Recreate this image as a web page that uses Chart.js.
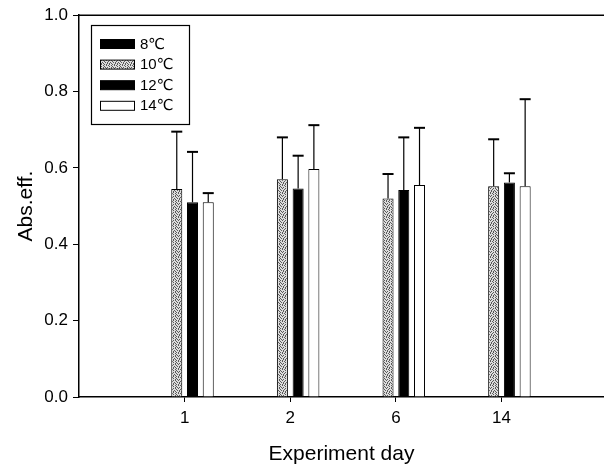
<!DOCTYPE html>
<html>
<head>
<meta charset="utf-8">
<script src="https://cdn.jsdelivr.net/npm/chart.js@4/dist/chart.umd.min.js"></script>
<style>
  html, body { margin: 0; padding: 0; background: #fff; }
</style>
</head>
<body>
<canvas id="chart-abs-eff" width="604" height="469"></canvas>
<script>
const DAY_LABELS = ["1", "2", "6", "14"];
const DAY_POS = [1, 2, 3, 4];
const SERIES_NAMES = ["8℃", "10℃", "12℃", "14℃"];

// means
const VALUES_8C = [null, null, null, null];
const VALUES_10C = [0.545, 0.57, 0.52, 0.552];
const VALUES_12C = [0.51, 0.546, 0.542, 0.562];
const VALUES_14C = [0.51, 0.597, 0.555, 0.552];

// upper error (SD)
const ERR_10C = [0.15, 0.11, 0.064, 0.123];
const ERR_12C = [0.132, 0.086, 0.138, 0.024];
const ERR_14C = [0.024, 0.115, 0.15, 0.228];

const Y_TICKS = [0, 0.2, 0.4, 0.6, 0.8, 1.0];

const FONT = "'Liberation Sans', Arial, 'DejaVu Sans', sans-serif";

function makeStipple() {
  const c = document.createElement("canvas");
  c.width = 8;
  c.height = 8;
  const ctx = c.getContext("2d");
  ctx.fillStyle = "#dcdcdc";
  ctx.fillRect(0, 0, 8, 8);
  const rows = [
    "x.x..x..",
    "..x.x..x",
    "x....x..",
    ".x.x...x",
    "..x..x.x",
    "x...x...",
    ".x.x..x.",
    "...x.x.x",
  ];
  ctx.fillStyle = "#5a5a5a";
  rows.forEach((row, y) => {
    [...row].forEach((ch, x) => {
      if (ch === "x") ctx.fillRect(x, y, 1, 1);
    });
  });
  return ctx.createPattern(c, "repeat");
}

function toPoints(values) {
  return DAY_POS.map((x, i) => ({ x: x, y: values[i] }));
}

const errorBarPlugin = {
  id: "errorBars",
  afterDatasetsDraw(chart) {
    const ctx = chart.ctx;
    const yScale = chart.scales.y;
    chart.data.datasets.forEach((ds, i) => {
      if (!ds.errors) return;
      const meta = chart.getDatasetMeta(i);
      meta.data.forEach((bar, j) => {
        const v = ds.data[j].y;
        const e = ds.errors[j];
        if (v == null || e == null) return;
        const yTop = yScale.getPixelForValue(v + e);
        const half = bar.width / 2;
        ctx.save();
        ctx.strokeStyle = "#000";
        ctx.lineWidth = 1.2;
        ctx.beginPath();
        ctx.moveTo(bar.x, bar.y);
        ctx.lineTo(bar.x, yTop);
        ctx.stroke();
        ctx.lineWidth = 2;
        ctx.beginPath();
        ctx.moveTo(bar.x - half, yTop);
        ctx.lineTo(bar.x + half, yTop);
        ctx.stroke();
        ctx.restore();
      });
    });
  },
};

const frameAndLegendPlugin = {
  id: "frameAndLegend",
  afterDraw(chart) {
    const ctx = chart.ctx;
    const area = chart.chartArea;
    ctx.save();
    // top frame line
    ctx.strokeStyle = "#000";
    ctx.lineWidth = 1.5;
    ctx.beginPath();
    ctx.moveTo(area.left, area.top);
    ctx.lineTo(area.right, area.top);
    ctx.stroke();

    // legend box
    ctx.lineWidth = 1.2;
    ctx.strokeRect(91.5, 25.5, 98, 99);
    ctx.font = "15px " + FONT;
    ctx.textBaseline = "middle";
    chart.data.datasets.forEach((ds, i) => {
      const y = 44 + i * 20.6;
      ctx.fillStyle = ds.backgroundColor;
      ctx.fillRect(100, y - 4.5, 35, 9);
      ctx.lineWidth = 1;
      ctx.strokeRect(100.5, y - 4.5, 34, 9);
      ctx.fillStyle = "#000";
      ctx.fillText(ds.label, 140, y + 0.5);
    });
    ctx.restore();
  },
};

const stipple = makeStipple();

const datasets = [
  { label: SERIES_NAMES[0], data: toPoints(VALUES_8C), backgroundColor: "#000" },
  { label: SERIES_NAMES[1], data: toPoints(VALUES_10C), backgroundColor: stipple, errors: ERR_10C },
  { label: SERIES_NAMES[2], data: toPoints(VALUES_12C), backgroundColor: "#000", errors: ERR_12C },
  { label: SERIES_NAMES[3], data: toPoints(VALUES_14C), backgroundColor: "#fff", errors: ERR_14C },
].map((ds) => ({
  ...ds,
  borderColor: "#000",
  borderWidth: 1,
  borderSkipped: "bottom",
  categoryPercentage: 0.596,
  barPercentage: 0.7,
}));

new Chart(document.getElementById("chart-abs-eff"), {
  type: "bar",
  data: { datasets: datasets },
  options: {
    responsive: false,
    animation: false,
    layout: { padding: { top: 15, right: 0, left: 0, bottom: 0 } },
    plugins: {
      legend: { display: false },
      tooltip: { enabled: false },
    },
    scales: {
      x: {
        type: "linear",
        min: 0,
        max: 4.97,
        offset: false,
        afterBuildTicks: (axis) => {
          axis.ticks = DAY_POS.map((v) => ({ value: v }));
        },
        afterFit: (scale) => {
          scale.height = 72;
        },
        ticks: {
          color: "#000",
          font: { size: 17, family: FONT },
          padding: 6,
          maxRotation: 0,
          callback: (value) => DAY_LABELS[DAY_POS.indexOf(value)],
        },
        grid: {
          display: true,
          offset: false,
          drawOnChartArea: false,
          drawTicks: true,
          tickLength: 5,
          color: "#000",
          lineWidth: 1,
        },
        border: { display: true, color: "#000", width: 1.5 },
        title: {
          display: true,
          text: "Experiment day",
          color: "#000",
          font: { size: 21, family: FONT },
          padding: { top: 0, bottom: 2 },
        },
      },
      y: {
        min: 0,
        max: 1,
        afterBuildTicks: (axis) => {
          axis.ticks = Y_TICKS.map((v) => ({ value: v }));
        },
        afterFit: (scale) => {
          scale.width = 79;
        },
        ticks: {
          color: "#000",
          font: { size: 17, family: FONT },
          padding: 5,
          callback: (value) => value.toFixed(1),
        },
        grid: {
          display: true,
          drawOnChartArea: false,
          drawTicks: true,
          tickLength: 6,
          color: "#000",
          lineWidth: 1,
        },
        border: { display: true, color: "#000", width: 1.5 },
        title: {
          display: true,
          text: "Abs.eff.",
          color: "#000",
          font: { size: 21, family: FONT },
          padding: { top: 14, bottom: 0 },
        },
      },
    },
  },
  plugins: [errorBarPlugin, frameAndLegendPlugin],
});
</script>
</body>
</html>
